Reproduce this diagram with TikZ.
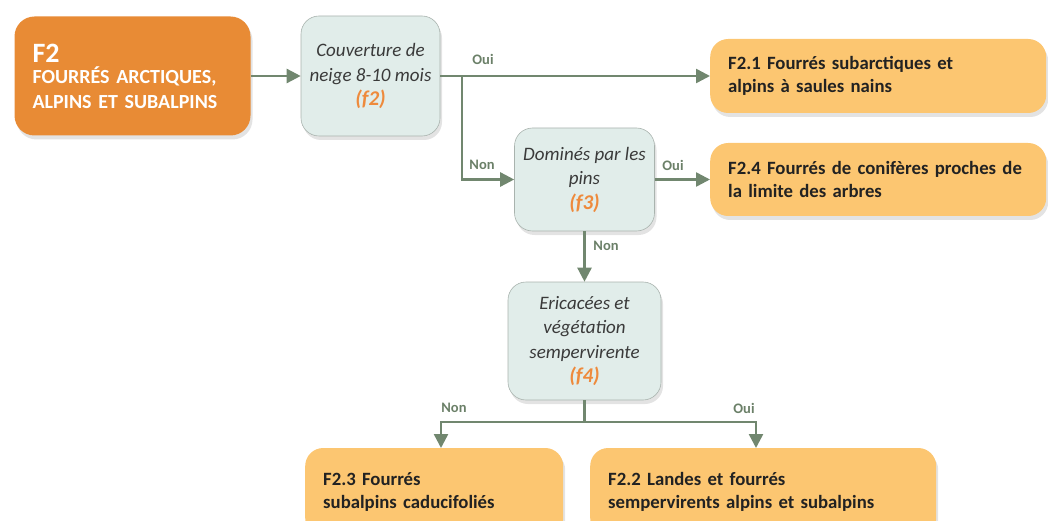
\documentclass[tikz,border=0pt]{standalone}
\usepackage{fontspec}
\setmainfont{Carlito}
\usetikzlibrary{arrows.meta,shadows}
\definecolor{ShrubOrange}{HTML}{E88B35}
\definecolor{ShrubSand}{HTML}{FCC671}
\definecolor{ShrubMist}{HTML}{E1EDEA}
\definecolor{ShrubEdge}{HTML}{A9B3AE}
\definecolor{ShrubLine}{HTML}{71876F}
\definecolor{ShrubLabel}{HTML}{6B8068}
\definecolor{ShrubText}{HTML}{3A3A3A}
\definecolor{ShrubInk}{HTML}{222222}
\definecolor{ShrubCode}{HTML}{EE8A3C}

\begin{document}
\begin{tikzpicture}[x=1pt,y=-1pt,
    boxshadow/.style={drop shadow={opacity=0.22,shadow xshift=2pt,shadow yshift=-4pt}},
    headbox/.style={fill=ShrubOrange,rounded corners=20pt,boxshadow,align=left,
      text=white,font=\fontsize{20}{25}\selectfont\bfseries,inner xsep=18pt},
    testbox/.style={draw=ShrubEdge,line width=0.6pt,fill=ShrubMist,rounded corners=18pt,boxshadow,
      align=center,text=ShrubText,font=\fontsize{19}{24.5}\selectfont\itshape,inner sep=0pt},
    resultbox/.style={fill=ShrubSand,rounded corners=18pt,boxshadow,anchor=west,align=left,
      text=ShrubInk,font=\fontsize{18.75}{23}\selectfont\bfseries,inner xsep=18pt},
    flow/.style={ShrubLine,line width=2.5pt,-{Triangle[length=14pt,width=14pt]}},
    answer/.style={text=ShrubLabel,font=\fontsize{14.5}{16}\selectfont\bfseries}
  ]
    \clip (0,0) rectangle (1048,521);
    \newcommand{\fcode}[1]{{\color{ShrubCode}\fontsize{21}{24.5}\selectfont\bfseries\itshape(#1)}}

    \node[headbox,minimum width=236pt,minimum height=119pt,text width=200pt] (head) at (132.5,76)
      {{\fontsize{28}{28}\selectfont F2}\\[-4pt]FOURRÉS ARCTIQUES,\\ALPINS ET SUBALPINS};

    \node[testbox,minimum width=139pt,minimum height=120pt] (test2) at (370.5,76)
      {Couverture de\\neige 8-10 mois\\\fcode{f2}};
    \node[testbox,minimum width=140pt,minimum height=103pt] (test3) at (584.5,179.5)
      {Dominés par les\\pins\\\fcode{f3}};
    \node[testbox,minimum width=153pt,minimum height=118pt] (test4) at (584.5,341)
      {Ericacées et\\végétation\\sempervirente\\\fcode{f4}};

    \node[resultbox,minimum width=336pt,minimum height=74pt,text width=300pt] (res21) at (710,76)
      {F2.1 Fourrés subarctiques et\\alpins à saules nains};
    \node[resultbox,minimum width=336pt,minimum height=73pt,text width=300pt] (res24) at (710,179.5)
      {F2.4 Fourrés de conifères proches de\\la limite des arbres};
    \node[resultbox,minimum width=258pt,minimum height=88pt,text width=222pt] (res23) at (305,492)
      {F2.3 Fourrés\\subalpins caducifoliés};
    \node[resultbox,minimum width=346pt,minimum height=88pt,text width=310pt] (res22) at (590,492)
      {F2.2 Landes et fourrés\\sempervirents alpins et subalpins};

    \coordinate (split2) at (462,76);
    \coordinate (split4) at (584.5,422);
    \coordinate (drop23) at (441,448);
    \coordinate (drop22) at (756,448);

    \draw[flow] (head.east) -- (test2.west);
    \draw[flow] (test2.east) -- (res21.west);
    \draw[flow] (split2) |- (test3.west);
    \draw[flow] (test3.east) -- (res24.west);
    \draw[flow] (test3.south) -- (test4.north);
    \draw[ShrubLine,line width=2.5pt] (test4.south) -- (split4);
    \draw[flow] (split4) -| (drop23);
    \draw[flow] (split4) -| (drop22);

    \node[answer] (oui2) at (483,59) {Oui};
    \node[answer] (non2) at (482,165) {Non};
    \node[answer] (oui3) at (673,165) {Oui};
    \node[answer] (non3) at (606,246) {Non};
    \node[answer] (non4) at (454,408) {Non};
    \node[answer] (oui4) at (744,408) {Oui};
  \end{tikzpicture}
\end{document}
